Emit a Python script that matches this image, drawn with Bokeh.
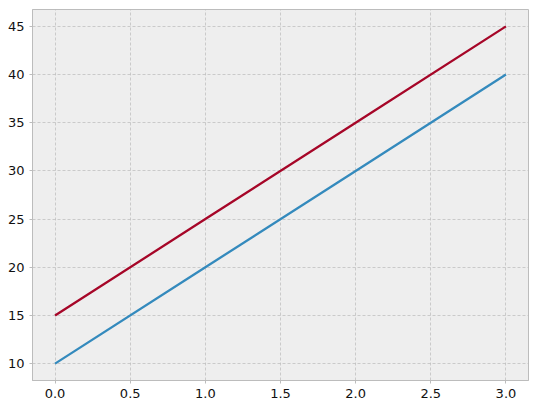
from bokeh.plotting import figure
from bokeh.models import Range1d, FixedTicker
from bokeh.embed import file_html
from bokeh.resources import INLINE

x = [0, 1, 2, 3]
y_blue = [10, 20, 30, 40]
y_red = [15, 25, 35, 45]
x_ticks = [0.0, 0.5, 1.0, 1.5, 2.0, 2.5, 3.0]
y_ticks = [10, 15, 20, 25, 30, 35, 40, 45]

p = figure(width=530, height=400, output_backend="svg", toolbar_location=None,
           x_range=Range1d(-0.15, 3.15), y_range=Range1d(8.25, 46.75),
           min_border_left=32, min_border_right=2, min_border_top=9, min_border_bottom=0)
p.background_fill_color = "#eeeeee"
p.border_fill_color = "white"
p.outline_line_color = "#bcbcbc"
p.outline_line_width = 1

p.line(x, y_blue, line_color="#348ABD", line_width=2.3)
p.line(x, y_red, line_color="#A60628", line_width=2.3)

for ax in (p.xaxis[0], p.yaxis[0]):
    ax.axis_line_color = "#bcbcbc"
    ax.major_tick_line_color = "#bcbcbc"
    ax.major_tick_out = 3
    ax.major_tick_in = 0
    ax.minor_tick_line_color = None
    ax.major_label_text_font = "DejaVu Sans"
    ax.major_label_text_font_size = "13px"
    ax.major_label_text_color = "#111111"
    ax.major_label_standoff = 5

p.xaxis.ticker = FixedTicker(ticks=x_ticks)
p.yaxis.ticker = FixedTicker(ticks=y_ticks)
p.xaxis.major_label_overrides = {t: f"{t:.1f}" for t in x_ticks}

for g in (p.xgrid[0], p.ygrid[0]):
    g.grid_line_color = "#b2b2b2"
    g.grid_line_dash = "3 2"
    g.grid_line_width = 0.6

open("out.html", "w").write(file_html(p, INLINE))
